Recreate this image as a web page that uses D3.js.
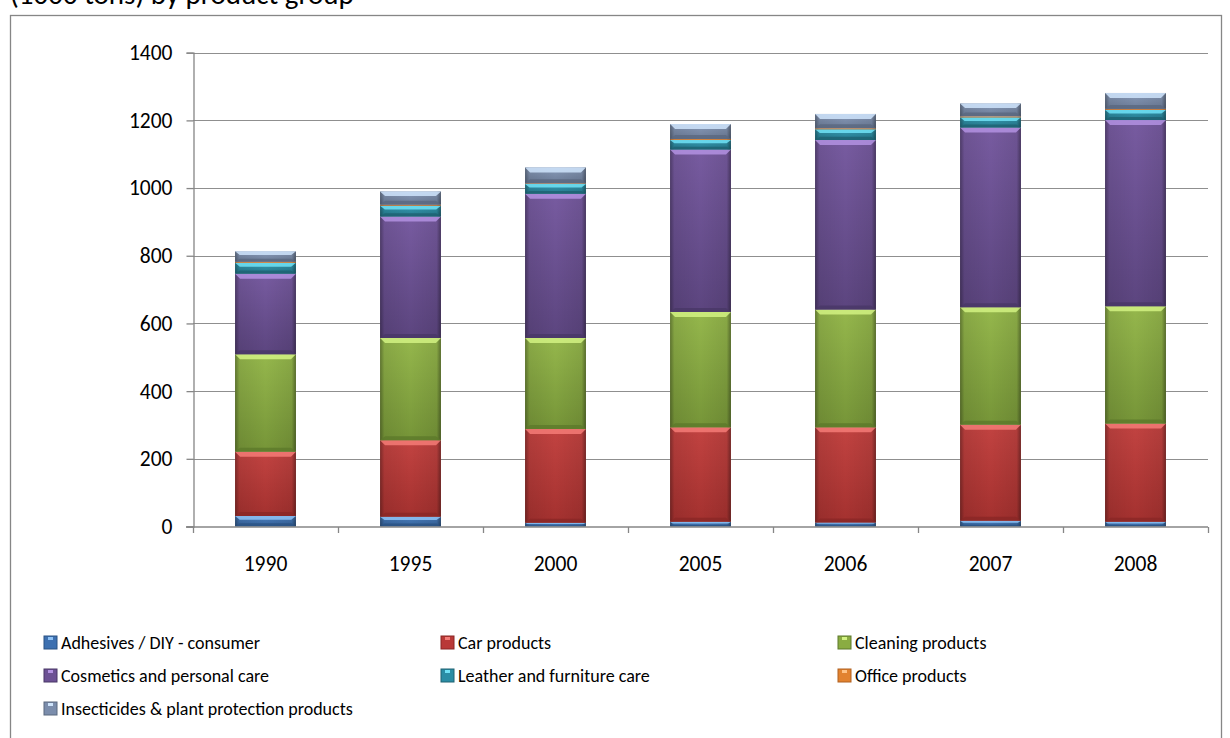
<!DOCTYPE html>
<html>
<head>
<meta charset="utf-8">
<script src="https://cdn.jsdelivr.net/npm/d3@7"></script>
<style>
  html, body { margin: 0; padding: 0; background: #fff; }
  svg { display: block; }
  text { font-family: Calibri, Carlito, Lato, "Noto Sans", sans-serif; fill: #000; }
</style>
</head>
<body>
<svg id="chart" width="1230" height="738"></svg>
<script>
// Consumption by product group, thousand tonnes
const years = ["1990", "1995", "2000", "2005", "2006", "2007", "2008"];
const adhesives    = [31, 29, 11, 14, 12, 17, 14];
const carProducts  = [190, 226, 277, 279, 281, 284, 290];
const cleaning     = [288, 302, 269, 341, 348, 347, 347];
const cosmetics    = [238, 359, 426, 480, 501, 531, 550];
const leather      = [32, 32, 29, 28, 32, 30, 30];
const office       = [3, 3, 2, 3, 3, 3, 3];
const insecticides = [31, 39, 47, 44, 42, 38, 47];

const seriesNames = [
  "Adhesives / DIY - consumer",
  "Car products",
  "Cleaning products",
  "Cosmetics and personal care",
  "Leather and furniture care",
  "Office products",
  "Insecticides & plant protection products"
];
const seriesValues = [adhesives, carProducts, cleaning, cosmetics, leather, office, insecticides];
const yTicks = [0, 200, 400, 600, 800, 1000, 1200, 1400];

// base / highlight / shadow for each series (bevelled look)
const palette = [
  { base: "#3d70b0", light: "#8ec2f6", dark: "#2b5283" },
  { base: "#b93937", light: "#f47b77", dark: "#8a2725" },
  { base: "#8aac42", light: "#d2f282", dark: "#5d792b" },
  { base: "#6c5194", light: "#b392e2", dark: "#483766" },
  { base: "#2a8da5", light: "#70e2f6", dark: "#1e6272" },
  { base: "#e2822f", light: "#ffc285", dark: "#b06020" },
  { base: "#7b8dac", light: "#cfe4fb", dark: "#5a687f" }
];

const table = years.map((yr, i) => {
  const row = { year: yr };
  seriesNames.forEach((n, s) => { row[n] = seriesValues[s][i]; });
  return row;
});
const stacked = d3.stack().keys(seriesNames)(table);

const svg = d3.select("#chart");
const plot = { left: 193, right: 1208, top: 52.7, bottom: 526.5 };

const x = d3.scaleBand().domain(years).range([plot.left, plot.right])
  .paddingInner(0.58).paddingOuter(0.29);
const y = d3.scaleLinear().domain([0, 1400]).range([plot.bottom, plot.top]);

// gradients
const defs = svg.append("defs");
palette.forEach((c, i) => {
  const g = defs.append("linearGradient").attr("id", "fill" + i)
    .attr("x1", 0).attr("y1", 0).attr("x2", 0).attr("y2", 1);
  g.append("stop").attr("offset", "0%").attr("stop-color", d3.interpolateRgb(c.base, c.light)(0.15));
  g.append("stop").attr("offset", "100%").attr("stop-color", d3.interpolateRgb(c.base, c.dark)(0.45));
});
const side = defs.append("linearGradient").attr("id", "sideShade")
  .attr("x1", 0).attr("y1", 0).attr("x2", 1).attr("y2", 0);
[[0, 0.35], [0.07, 0.08], [0.5, 0], [0.93, 0.08], [1, 0.4]].forEach(([o, a]) => {
  side.append("stop").attr("offset", o).attr("stop-color", "#000").attr("stop-opacity", a);
});

// outer frame
svg.append("rect").attr("x", 10.5).attr("y", 15.5).attr("width", 1211).attr("height", 760)
  .attr("fill", "none").attr("stroke", "#868686").attr("stroke-width", 1.3);

// heading, running off the top edge
svg.append("text").attr("x", 10).attr("y", 4).attr("font-size", 29)
  .text("(1000 tons) by product group");

// gridlines
svg.append("g").selectAll("line").data(yTicks.slice(1)).join("line")
  .attr("x1", plot.left).attr("x2", plot.right)
  .attr("y1", d => Math.round(y(d)) + 0.5).attr("y2", d => Math.round(y(d)) + 0.5)
  .attr("stroke", "#8f8f8f").attr("stroke-width", 1.2);

// y axis
const yAxis = svg.append("g").attr("transform", `translate(${plot.left + 0.5},0)`)
  .call(d3.axisLeft(y).tickValues(yTicks).tickSize(7).tickPadding(14).tickFormat(d3.format("d")));
yAxis.select(".domain").attr("stroke", "#868686").attr("stroke-width", 1.3);
yAxis.selectAll(".tick line").attr("stroke", "#868686").attr("stroke-width", 1.3);
yAxis.selectAll(".tick text").attr("font-size", 21.5).attr("font-family", null).attr("fill", "#000");

// bars
const barsG = svg.append("g");
stacked.forEach((layer, s) => {
  const c = palette[s];
  const g = barsG.append("g");
  layer.forEach(d => {
    const x0 = x(d.data.year), w = x.bandwidth();
    const yt = y(d[1]), yb = y(d[0]), h = yb - yt;
    if (h <= 0) return;
    g.append("rect").attr("x", x0).attr("y", yt).attr("width", w).attr("height", h)
      .attr("fill", `url(#fill${s})`);
    g.append("rect").attr("x", x0).attr("y", yt).attr("width", w).attr("height", h)
      .attr("fill", "url(#sideShade)");
    const ht = Math.min(5, h * 0.35), hb = Math.min(4, h * 0.3), ins = Math.min(5, ht + 1);
    g.append("path")
      .attr("d", `M${x0},${yt}H${x0 + w}L${x0 + w - ins},${yt + ht}H${x0 + ins}Z`)
      .attr("fill", c.light).attr("opacity", 0.85);
    g.append("path")
      .attr("d", `M${x0},${yb}H${x0 + w}L${x0 + w - ins},${yb - hb}H${x0 + ins}Z`)
      .attr("fill", c.dark).attr("opacity", 0.8);
  });
});

// x axis
const xAxisG = svg.append("g").attr("transform", `translate(0,${plot.bottom + 0.5})`);
xAxisG.append("line").attr("x1", plot.left - 7).attr("x2", plot.right)
  .attr("stroke", "#868686").attr("stroke-width", 1.3);
const step = x.step();
const bounds = d3.range(years.length + 1).map(i => plot.left + i * step);
xAxisG.selectAll("line.tk").data(bounds).join("line").attr("class", "tk")
  .attr("x1", d => Math.round(d) + 0.5).attr("x2", d => Math.round(d) + 0.5)
  .attr("y1", 0).attr("y2", 6).attr("stroke", "#868686").attr("stroke-width", 1.3);
xAxisG.selectAll("text").data(years).join("text")
  .attr("x", d => x(d) + x.bandwidth() / 2).attr("y", 44)
  .attr("text-anchor", "middle").attr("font-size", 21.5).text(d => d);

// legend
const legCols = [44, 441, 838], legRows = [643, 676, 709];
const leg = svg.append("g");
seriesNames.forEach((n, i) => {
  const lx = legCols[i % 3], ly = legRows[Math.floor(i / 3)];
  const c = palette[i];
  leg.append("rect").attr("x", lx).attr("y", ly - 7).attr("width", 13).attr("height", 13)
    .attr("fill", c.base).attr("stroke", c.dark).attr("stroke-width", 1);
  leg.append("rect").attr("x", lx + 4).attr("y", ly - 6).attr("width", 5).attr("height", 3)
    .attr("fill", c.light);
  leg.append("text").attr("x", lx + 17).attr("y", ly).attr("dy", "0.35em")
    .attr("font-size", 18).text(n);
});
</script>
</body>
</html>
